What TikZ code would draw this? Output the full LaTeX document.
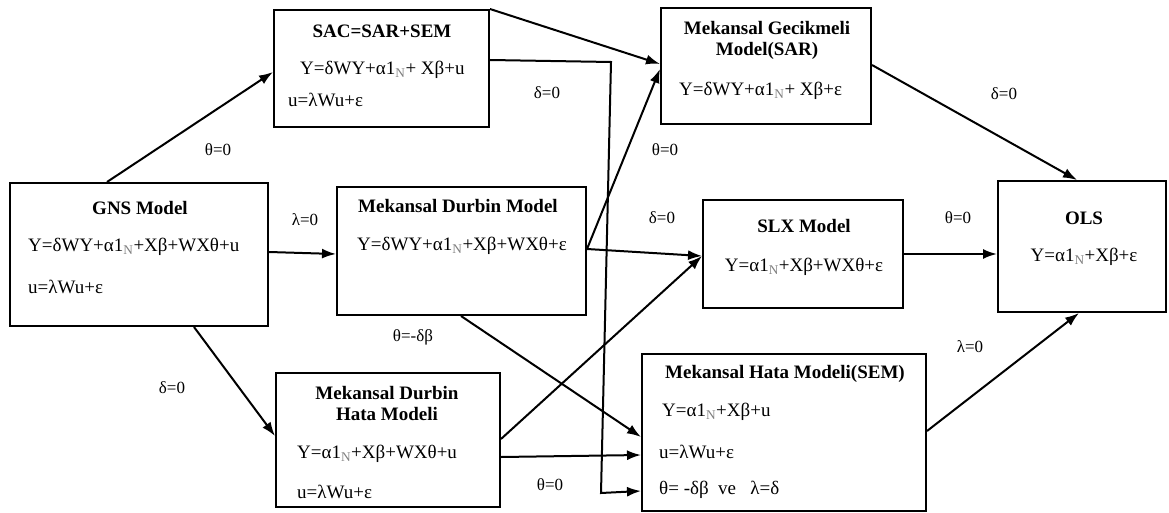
\documentclass[tikz,border=0pt]{standalone}
\usepackage{fontspec}
\setmainfont{Liberation Serif}
\usetikzlibrary{arrows.meta}
\newcommand{\oneN}{α1\textsubscript{\textcolor{gray}{N}}}

\begin{document}
\begin{tikzpicture}[x=1pt, y=-1pt, >={Latex[length=14pt,width=10pt]},
    main/.style = {draw, line width=2pt, rectangle, inner sep=0pt},
    txt/.style = {inner sep=0pt, anchor=west, font=\fontsize{19}{21}\selectfont},
    ttl/.style = {inner sep=0pt, align=center, font=\fontsize{19}{21}\selectfont\bfseries},
    lbl/.style = {inner sep=1pt, font=\fontsize{17}{19}\selectfont},
    con/.style = {->, line width=2pt}]
    \useasboundingbox (0,0) rectangle (1169,513);
    % boxes
    \node[main, minimum width=258pt, minimum height=143pt] (gns) at (139,254.5) {};
    \node[main, minimum width=215pt, minimum height=117pt] (sac) at (381.5,68.5) {};
    \node[main, minimum width=249pt, minimum height=128pt] (mdm) at (461.5,251) {};
    \node[main, minimum width=210pt, minimum height=116pt] (sar) at (766,66) {};
    \node[main, minimum width=200pt, minimum height=108pt] (slx) at (803,254) {};
    \node[main, minimum width=168pt, minimum height=131pt] (ols) at (1082,246.5) {};
    \node[main, minimum width=224pt, minimum height=134pt] (mdhm) at (388,440) {};
    \node[main, minimum width=284pt, minimum height=157pt] (sem) at (784,432.5) {};
    % texts
    \node[ttl] (gnsT) at (140,208) {GNS Model};
    \node[txt] (gnsA) at (28,247) {Y=δWY+\oneN+Xβ+WXθ+u};
    \node[txt] (gnsB) at (28,287) {u=λWu+ε};
    \node[ttl] (sacT) at (382,31) {SAC=SAR+SEM};
    \node[txt] (sacA) at (300,70) {Y=δWY+\oneN+ Xβ+u};
    \node[txt] (sacB) at (288,100) {u=λWu+ε};
    \node[ttl] (mdmT) at (458,206) {Mekansal Durbin Model};
    \node[txt] (mdmA) at (357,246) {Y=δWY+\oneN+Xβ+WXθ+ε};
    \node[ttl] (sarT) at (767,40) {Mekansal Gecikmeli\\Model(SAR)};
    \node[txt] (sarA) at (679,91) {Y=δWY+\oneN+ Xβ+ε};
    \node[ttl] (slxT) at (804,226) {SLX Model};
    \node[txt, anchor=center] (slxA) at (804,267) {Y=\oneN+Xβ+WXθ+ε};
    \node[ttl] (olsT) at (1084,218) {OLS};
    \node[txt, anchor=center] (olsA) at (1084,257) {Y=\oneN+Xβ+ε};
    \node[ttl] (mdhmT) at (387,403) {Mekansal Durbin\\Hata Modeli};
    \node[txt] (mdhmA) at (297,454) {Y=\oneN+Xβ+WXθ+u};
    \node[txt] (mdhmB) at (297,492) {u=λWu+ε};
    \node[ttl] (semT) at (785,374) {Mekansal Hata Modeli(SEM)};
    \node[txt] (semA) at (662,412) {Y=\oneN+Xβ+u};
    \node[txt] (semB) at (659,452) {u=λWu+ε};
    \node[txt] (semC) at (659,490) {θ= -δβ\ \ ve\ \ \ λ=δ};
    % connectors
    \draw[con] ([xshift=98pt]gns.north west) -- ([yshift=-63pt]sac.north west);
    \draw[con] ([yshift=-70pt]gns.north east) -- ([yshift=-68pt]mdm.north west);
    \draw[con] ([xshift=185pt]gns.south west) -- ([yshift=-64pt]mdhm.north west);
    \draw[con] (sac.north east) -- ([yshift=-57pt]sar.north west);
    \draw[con] ([yshift=-51pt]sac.north east) -- (611,62) -- (601,493) -- ([yshift=-138pt]sem.north west);
    \draw[con] ([yshift=-63pt]mdm.north east) -- ([yshift=-62pt]sar.north west);
    \draw[con] ([yshift=-63pt]mdm.north east) -- ([yshift=-57pt]slx.north west);
    \draw[con] ([xshift=125pt]mdm.south west) -- ([yshift=-84pt]sem.north west);
    \draw[con] ([yshift=-67pt]mdhm.north east) -- ([yshift=-57pt]slx.north west);
    \draw[con] ([yshift=-85pt]mdhm.north east) -- ([yshift=-102pt]sem.north west);
    \draw[con] ([yshift=-58pt]sar.north east) -- ([xshift=80pt]ols.north west);
    \draw[con] ([yshift=-55pt]slx.north east) -- ([yshift=-74pt]ols.north west);
    \draw[con] ([yshift=-78pt]sem.north east) -- ([xshift=82pt]ols.south west);
    % labels
    \node[lbl] (l1) at (218,150) {θ=0};
    \node[lbl] (l2) at (305,220) {λ=0};
    \node[lbl] (l3) at (172,388) {δ=0};
    \node[lbl] (l4) at (547,93) {δ=0};
    \node[lbl] (l5) at (665,150) {θ=0};
    \node[lbl] (l6) at (662,218) {δ=0};
    \node[lbl] (l7) at (413,337) {θ=-δβ};
    \node[lbl] (l8) at (550,485) {θ=0};
    \node[lbl] (l9) at (1004,94) {δ=0};
    \node[lbl] (l10) at (958,218) {θ=0};
    \node[lbl] (l11) at (970,347) {λ=0};
\end{tikzpicture}
\end{document}
